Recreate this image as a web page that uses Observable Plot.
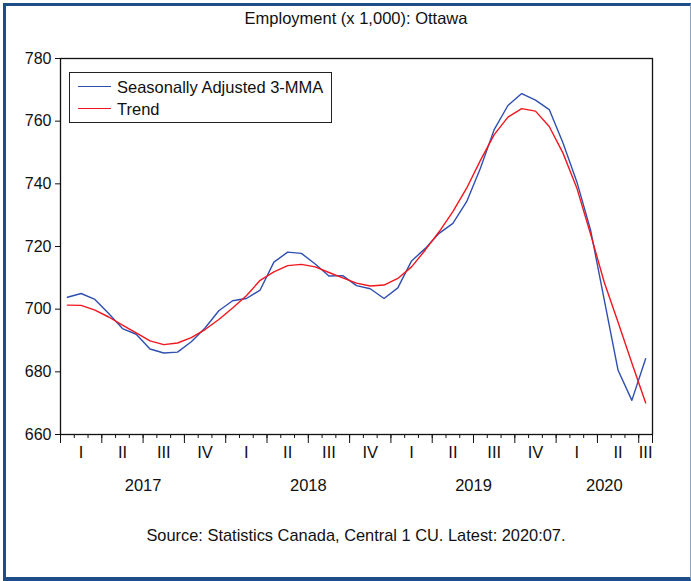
<!DOCTYPE html>
<html>
<head>
<meta charset="utf-8">
<script src="https://cdn.jsdelivr.net/npm/d3@7"></script>
<script src="https://cdn.jsdelivr.net/npm/@observablehq/plot@0.6"></script>
<style>
  body { margin: 0; background: #fff; font-family: "Liberation Sans", Arial, sans-serif; color: #111; }
  #wrap { position: relative; width: 691px; height: 581px; overflow: hidden; background: #fff; }
  #border { position: absolute; left: 3px; top: 3px; width: 684px; height: 571px;
    border-top: 3px solid #1D4E89; border-left: 3px solid #1D4E89; border-bottom: 4px solid #1D4E89; border-right: 1px solid #8DA6C8; }
  #title { position: absolute; left: 60px; width: 592px; top: 9px; text-align: center; font-size: 16.5px; line-height: 18px; }
  #chart { position: absolute; left: 0; top: 38px; }
  #caption { position: absolute; left: 60px; width: 592px; top: 526px; text-align: center; font-size: 16.4px; line-height: 18px; }
  #legend { position: absolute; left: 69px; top: 72px; width: 263px; height: 51px; box-sizing: border-box; border: 1px solid #222; background: #fff; }
  .lrow { position: absolute; left: 0; height: 20px; font-size: 16.5px; line-height: 20px; }
  .lrow .sw { position: absolute; left: 8px; top: 9px; width: 33px; height: 0; border-top: 1.4px solid; }
  .lrow .lt { position: absolute; left: 47px; top: 0; white-space: nowrap; }
</style>
</head>
<body>
<div id="wrap">
  <div id="border"></div>
  <div id="title">Employment (x 1,000): Ottawa</div>
  <div id="chart"></div>
  <div id="legend"></div>
  <div id="caption">Source: Statistics Canada, Central 1 CU. Latest: 2020:07.</div>
</div>
<script>
// Monthly, Jan 2017 .. Jul 2020
const sa3mma = [
  703.8, 705.0, 703.1, 698.6, 693.8, 692.0, 687.3, 686.0, 686.3, 689.6, 694.0, 699.5,
  702.7, 703.4, 706.1, 715.0, 718.2, 717.8, 714.4, 710.6, 710.7, 707.5, 706.5, 703.4,
  706.8, 715.4, 719.4, 724.2, 727.4, 734.3, 745.0, 757.3, 765.0, 768.8, 766.7, 763.7,
  753.0, 740.7, 725.3, 702.9, 680.5, 670.9, 684.2
];
const trend = [
  701.3, 701.2, 699.7, 697.5, 694.9, 692.4, 689.9, 688.7, 689.2, 690.9, 693.5, 696.7,
  700.4, 704.3, 709.2, 711.9, 713.9, 714.3, 713.5, 711.7, 710.0, 708.3, 707.4, 707.7,
  709.8, 713.5, 718.9, 724.7, 731.1, 738.6, 747.5, 755.7, 761.3, 764.0, 763.2, 758.3,
  749.8, 738.7, 724.0, 708.5, 695.8, 682.8, 670.1
];
const quarterLabels = ["I","II","III","IV","I","II","III","IV","I","II","III","IV","I","II","III"];
const yearLabels = ["2017","2018","2019","2020"];
const yTicks = [660, 680, 700, 720, 740, 760, 780];
const seriesNames = ["Seasonally Adjusted 3-MMA", "Trend"];
const seriesColors = ["#2F4FB0", "#F2161E"];

const nMonths = sa3mma.length;            // 43
const monthTicks = d3.range(0, nMonths + 1);
const quarterTicks = monthTicks.filter(m => m % 3 === 0 || m === nMonths);
const mid = (start, len) => (start + Math.min(start + len, nMonths)) / 2;

const font = '"Liberation Sans", Arial, sans-serif';

const chart = Plot.plot({
  width: 691,
  height: 472,
  marginTop: 20,
  marginBottom: 76,
  marginLeft: 60,
  marginRight: 39,
  x: { domain: [0, nMonths], axis: null },
  y: { domain: [660, 780], axis: null },
  style: { fontFamily: font, fontSize: "16px", color: "#111", background: "transparent", overflow: "visible" },
  marks: [
    Plot.axisY(yTicks, { tickSize: 5, tickPadding: 4, fontSize: 16, label: null, stroke: "#111" }),
    Plot.axisX(monthTicks, { tickSize: 4, tickFormat: () => "", label: null, stroke: "#111" }),
    Plot.axisX(quarterTicks, { tickSize: 9, tickFormat: () => "", label: null, stroke: "#111" }),
    Plot.text(quarterLabels, { x: (d, i) => mid(i * 3, 3), frameAnchor: "bottom", dy: 23, text: d => d, fontSize: 16.5, fill: "#111" }),
    Plot.text(yearLabels, { x: (d, i) => mid(i * 12, 12), frameAnchor: "bottom", dy: 56, text: d => d, fontSize: 16.5, fill: "#111" }),
    Plot.lineY(sa3mma, { x: (d, i) => i + 0.5, y: d => d, stroke: seriesColors[0], strokeWidth: 1.4 }),
    Plot.lineY(trend, { x: (d, i) => i + 0.5, y: d => d, stroke: seriesColors[1], strokeWidth: 1.4 }),
    Plot.frame({ stroke: "#111", strokeWidth: 1.3 })
  ]
});
document.getElementById("chart").appendChild(chart);

const legend = document.getElementById("legend");
seriesNames.forEach((name, i) => {
  const row = document.createElement("div");
  row.className = "lrow";
  row.style.top = (4 + i * 22) + "px";
  row.innerHTML = `<div class="sw" style="border-color:${seriesColors[i]}"></div><div class="lt">${name}</div>`;
  legend.appendChild(row);
});
</script>
</body>
</html>
